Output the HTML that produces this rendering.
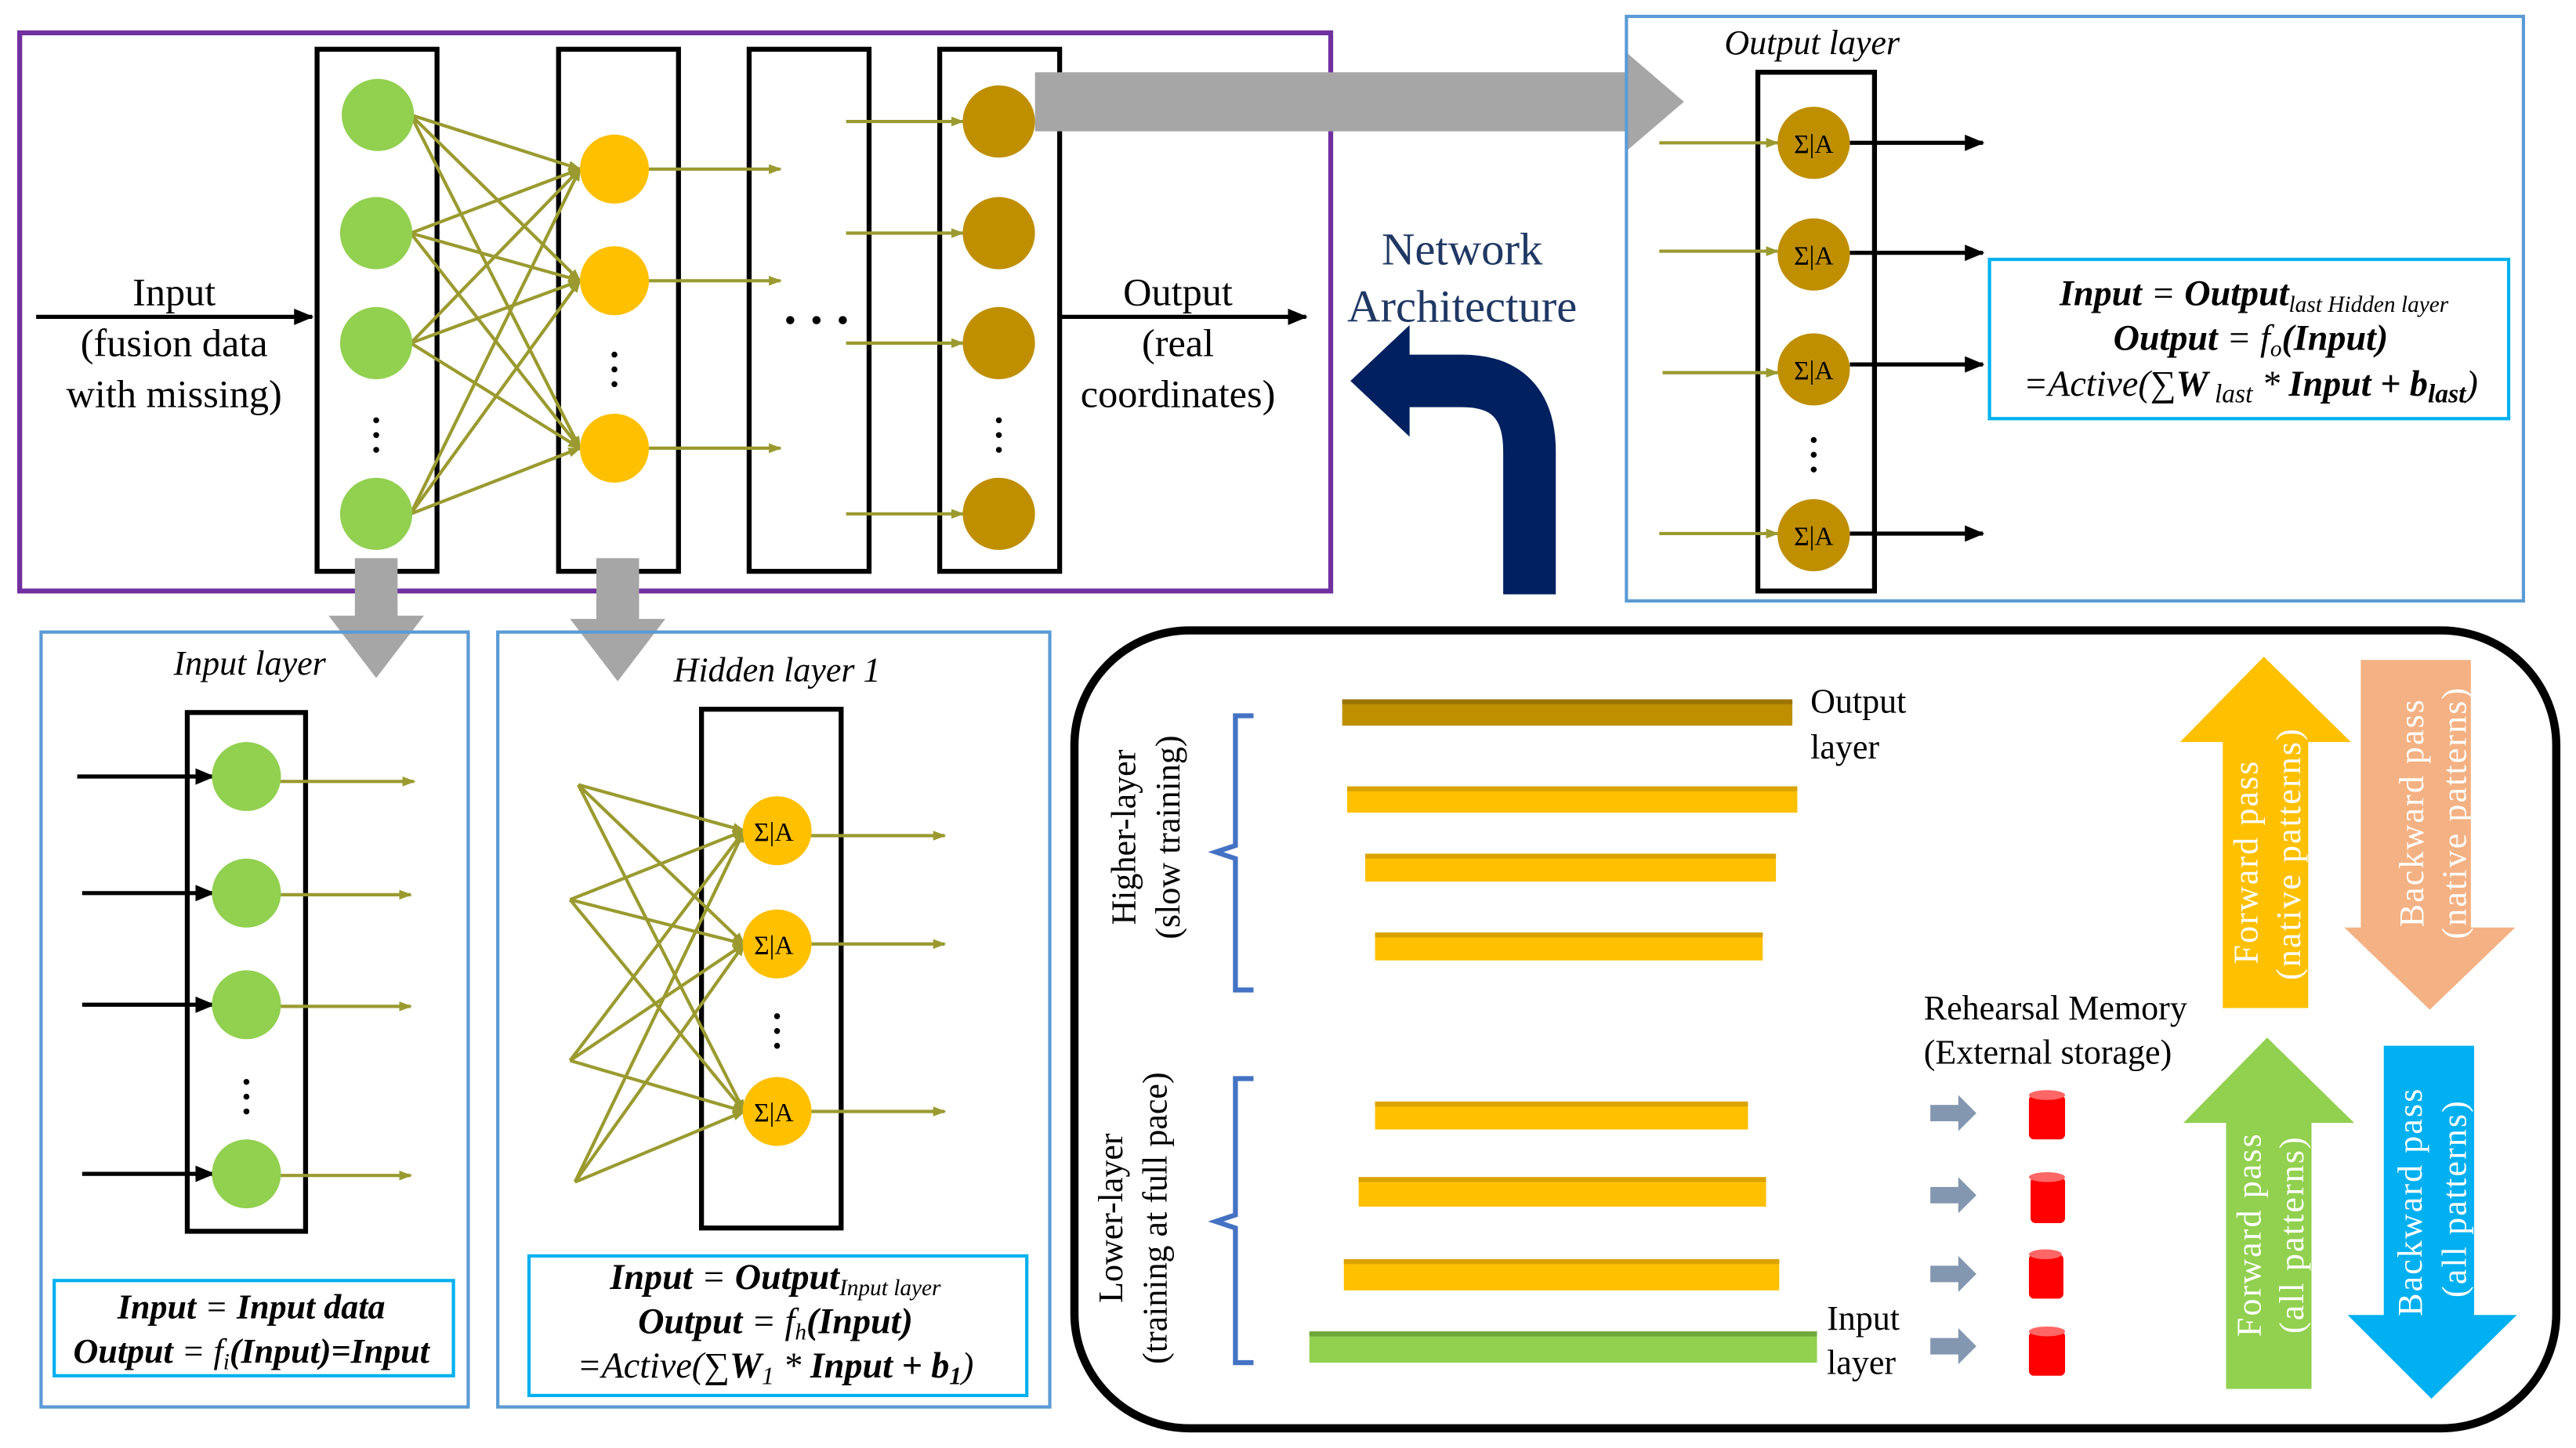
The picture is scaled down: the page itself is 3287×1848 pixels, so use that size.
<!DOCTYPE html>
<html><head><meta charset="utf-8"><style>
html,body{margin:0;padding:0;background:#fff}
svg{display:block}
text{font-family:"Liberation Serif",serif}
</style></head><body>
<svg width="3287" height="1848" viewBox="0 0 1568 882" preserveAspectRatio="none" xmlns="http://www.w3.org/2000/svg">
<defs>
<marker id="ao" markerWidth="8" markerHeight="8" refX="7" refY="4" orient="auto" markerUnits="userSpaceOnUse"><path d="M0,1 L8,4 L0,7 Z" fill="#9A9A30"/></marker>
<marker id="ab" markerWidth="12" markerHeight="10" refX="11" refY="5" orient="auto" markerUnits="userSpaceOnUse"><path d="M0,0 L12,5 L0,10 Z" fill="#000"/></marker>
</defs>
<rect width="1568" height="882" fill="#fff"/>

<rect x="12" y="20" width="798" height="340" fill="none" stroke="#7030A0" stroke-width="3"/>
<g fill="none" stroke="#000" stroke-width="3">
<rect x="193" y="30" width="73" height="318"/>
<rect x="340" y="30" width="73" height="318"/>
<rect x="456" y="30" width="73" height="318"/>
<rect x="572" y="30" width="73" height="318"/>
</g>
<g stroke="#9A9A30" stroke-width="2" fill="none" marker-end="url(#ao)">
<line x1="250" y1="70" x2="353" y2="103"/><line x1="250" y1="70" x2="353" y2="171"/><line x1="250" y1="70" x2="353" y2="273"/>
<line x1="250" y1="142" x2="353" y2="103"/><line x1="250" y1="142" x2="353" y2="171"/><line x1="250" y1="142" x2="353" y2="273"/>
<line x1="250" y1="209" x2="353" y2="103"/><line x1="250" y1="209" x2="353" y2="171"/><line x1="250" y1="209" x2="353" y2="273"/>
<line x1="250" y1="313" x2="353" y2="103"/><line x1="250" y1="313" x2="353" y2="171"/><line x1="250" y1="313" x2="353" y2="273"/>
<line x1="395" y1="103" x2="475" y2="103"/><line x1="395" y1="171" x2="475" y2="171"/><line x1="395" y1="273" x2="475" y2="273"/>
<line x1="515" y1="74" x2="586" y2="74"/><line x1="515" y1="142" x2="586" y2="142"/><line x1="515" y1="209" x2="586" y2="209"/><line x1="515" y1="313" x2="586" y2="313"/>
</g>
<g fill="#92D050"><circle cx="230" cy="70" r="22"/><circle cx="229" cy="142" r="22"/><circle cx="229" cy="209" r="22"/><circle cx="229" cy="313" r="22"/></g>
<g fill="#FFC000"><circle cx="374" cy="103" r="21"/><circle cx="374" cy="171" r="21"/><circle cx="374" cy="273" r="21"/></g>
<g fill="#BF8F00"><circle cx="608" cy="74" r="22"/><circle cx="608" cy="142" r="22"/><circle cx="608" cy="209" r="22"/><circle cx="608" cy="313" r="22"/></g>
<g fill="#000"><circle cx="229" cy="256" r="1.8"/><circle cx="229" cy="265" r="1.8"/><circle cx="229" cy="274" r="1.8"/>
<circle cx="374" cy="216" r="1.8"/><circle cx="374" cy="225" r="1.8"/><circle cx="374" cy="234" r="1.8"/>
<circle cx="608" cy="256" r="1.8"/><circle cx="608" cy="265" r="1.8"/><circle cx="608" cy="274" r="1.8"/>
<circle cx="481" cy="195" r="2.5"/><circle cx="497" cy="195" r="2.5"/><circle cx="513" cy="195" r="2.5"/></g>
<line x1="22" y1="193" x2="190" y2="193" stroke="#000" stroke-width="2.5" marker-end="url(#ab)"/>
<line x1="645" y1="193" x2="795" y2="193" stroke="#000" stroke-width="2.5" marker-end="url(#ab)"/>
<g font-size="24" text-anchor="middle" fill="#000">
<text x="106" y="186">Input</text><text x="106" y="217">(fusion data</text><text x="106" y="248">with missing)</text>
<text x="717" y="186">Output</text><text x="717" y="217">(real</text><text x="717" y="248">coordinates)</text>
</g>
<g fill="#A6A6A6">
<polygon points="630,44 990,44 990,32 1025,62 990,92 990,80 630,80"/>
<polygon points="216,340 242,340 242,375 258,375 229,413 200,375 216,375"/>
<polygon points="363,340 389,340 389,377 405,377 376,415 347,377 363,377"/>
</g>
<g font-size="28" text-anchor="middle" fill="#203864"><text x="890" y="161">Network</text><text x="890" y="196">Architecture</text></g>
<path d="M931,362 L931,275 Q931,232 890,232 L852,232" fill="none" stroke="#002060" stroke-width="32"/>
<polygon points="822,232 858,198 858,266" fill="#002060"/>

<rect x="990" y="10" width="546" height="356" fill="none" stroke="#5B9BD5" stroke-width="2"/>
<text x="1103" y="33" font-size="21" font-style="italic" text-anchor="middle">Output layer</text>
<rect x="1070" y="44" width="71" height="316" fill="none" stroke="#000" stroke-width="3"/>
<g stroke="#9A9A30" stroke-width="2" marker-end="url(#ao)">
<line x1="1010" y1="87" x2="1082" y2="87"/><line x1="1010" y1="153" x2="1082" y2="153"/><line x1="1012" y1="227" x2="1082" y2="227"/><line x1="1010" y1="325" x2="1082" y2="325"/>
</g>
<g stroke="#000" stroke-width="2.5" marker-end="url(#ab)">
<line x1="1126" y1="87" x2="1207" y2="87"/><line x1="1126" y1="154" x2="1207" y2="154"/><line x1="1126" y1="222" x2="1207" y2="222"/><line x1="1126" y1="325" x2="1207" y2="325"/>
</g>
<g fill="#BF8F00"><circle cx="1104" cy="87" r="22"/><circle cx="1104" cy="155" r="22"/><circle cx="1104" cy="225" r="22"/><circle cx="1104" cy="326" r="22"/></g>
<g font-size="16" text-anchor="middle" fill="#000"><text x="1104" y="93">Σ|A</text><text x="1104" y="161">Σ|A</text><text x="1104" y="231">Σ|A</text><text x="1104" y="332">Σ|A</text></g>
<g fill="#000"><circle cx="1104" cy="268" r="1.8"/><circle cx="1104" cy="277" r="1.8"/><circle cx="1104" cy="286" r="1.8"/></g>
<rect x="1211" y="158" width="316" height="97" fill="#fff" stroke="#00B0F0" stroke-width="2"/>
<g font-size="22" text-anchor="middle" font-style="italic">
<text x="1372" y="186"><tspan font-weight="bold">Input</tspan> = <tspan font-weight="bold">Output</tspan><tspan font-size="14" dy="4">last Hidden layer</tspan></text>
<text x="1370" y="213"><tspan font-weight="bold">Output</tspan> = f<tspan font-size="14" dy="4">o</tspan><tspan dy="-4" font-weight="bold">(Input)</tspan></text>
<text x="1370" y="241">=Active(∑<tspan font-weight="bold">W</tspan><tspan font-size="16" dy="4"> last</tspan><tspan dy="-4"> * </tspan><tspan font-weight="bold">Input + b</tspan><tspan font-size="16" dy="4" font-weight="bold">last</tspan><tspan dy="-4">)</tspan></text>
</g>

<rect x="25" y="385" width="260" height="472" fill="none" stroke="#5B9BD5" stroke-width="2"/>
<text x="152" y="411" font-size="21" font-style="italic" text-anchor="middle">Input layer</text>
<rect x="114" y="434" width="72" height="316" fill="none" stroke="#000" stroke-width="3"/>
<g stroke="#000" stroke-width="2.5" marker-end="url(#ab)">
<line x1="47" y1="473" x2="130" y2="473"/><line x1="50" y1="544" x2="130" y2="544"/><line x1="50" y1="612" x2="130" y2="612"/><line x1="50" y1="715" x2="130" y2="715"/>
</g>
<g stroke="#9A9A30" stroke-width="2" marker-end="url(#ao)">
<line x1="170" y1="476" x2="252" y2="476"/><line x1="170" y1="545" x2="250" y2="545"/><line x1="170" y1="613" x2="250" y2="613"/><line x1="170" y1="716" x2="250" y2="716"/>
</g>
<g fill="#92D050"><circle cx="150" cy="473" r="21"/><circle cx="150" cy="544" r="21"/><circle cx="150" cy="612" r="21"/><circle cx="150" cy="715" r="21"/></g>
<g fill="#000"><circle cx="150" cy="659" r="1.8"/><circle cx="150" cy="668" r="1.8"/><circle cx="150" cy="677" r="1.8"/></g>
<rect x="33" y="780" width="243" height="58" fill="#fff" stroke="#00B0F0" stroke-width="2"/>
<g font-size="21" text-anchor="middle" font-style="italic" font-weight="bold">
<text x="153" y="803">Input <tspan font-weight="normal">=</tspan> Input data</text>
<text x="153" y="830">Output <tspan font-weight="normal">= f</tspan><tspan font-size="14" dy="4" font-weight="normal">i</tspan><tspan dy="-4">(Input)=Input</tspan></text>
</g>

<rect x="303" y="385" width="336" height="472" fill="none" stroke="#5B9BD5" stroke-width="2"/>
<text x="473" y="415" font-size="21" font-style="italic" text-anchor="middle">Hidden layer 1</text>
<rect x="427" y="432" width="85" height="316" fill="none" stroke="#000" stroke-width="3"/>
<g stroke="#9A9A30" stroke-width="2" fill="none" marker-end="url(#ao)">
<line x1="352" y1="478" x2="453" y2="506"/><line x1="352" y1="478" x2="453" y2="575"/><line x1="352" y1="478" x2="453" y2="677"/>
<line x1="347" y1="548" x2="453" y2="506"/><line x1="347" y1="548" x2="453" y2="575"/><line x1="347" y1="548" x2="453" y2="677"/>
<line x1="347" y1="646" x2="453" y2="506"/><line x1="347" y1="646" x2="453" y2="575"/><line x1="347" y1="646" x2="453" y2="677"/>
<line x1="350" y1="720" x2="453" y2="506"/><line x1="350" y1="720" x2="453" y2="575"/><line x1="350" y1="720" x2="453" y2="677"/>
<line x1="493" y1="509" x2="575" y2="509"/><line x1="493" y1="575" x2="575" y2="575"/><line x1="493" y1="677" x2="575" y2="677"/>
</g>
<g fill="#FFC000"><circle cx="473" cy="506" r="21"/><circle cx="473" cy="575" r="21"/><circle cx="473" cy="677" r="21"/></g>
<g font-size="16" text-anchor="middle"><text x="471" y="512">Σ|A</text><text x="471" y="581">Σ|A</text><text x="471" y="683">Σ|A</text></g>
<g fill="#000"><circle cx="473" cy="619" r="1.8"/><circle cx="473" cy="628" r="1.8"/><circle cx="473" cy="637" r="1.8"/></g>
<rect x="322" y="765" width="303" height="85" fill="#fff" stroke="#00B0F0" stroke-width="2"/>
<g font-size="22" text-anchor="middle" font-style="italic">
<text x="472" y="785"><tspan font-weight="bold">Input</tspan> = <tspan font-weight="bold">Output</tspan><tspan font-size="14" dy="4">Input layer</tspan></text>
<text x="472" y="812"><tspan font-weight="bold">Output</tspan> = f<tspan font-size="14" dy="4">h</tspan><tspan dy="-4" font-weight="bold">(Input)</tspan></text>
<text x="472" y="839">=Active(∑<tspan font-weight="bold">W</tspan><tspan font-size="15" dy="4">1</tspan><tspan dy="-4"> * </tspan><tspan font-weight="bold">Input + b</tspan><tspan font-size="15" dy="4" font-weight="bold">1</tspan><tspan dy="-4">)</tspan></text>
</g>

<rect x="654" y="384" width="902" height="486" rx="70" ry="70" fill="none" stroke="#000" stroke-width="5"/>
<g>
<rect x="817" y="426" width="274" height="16" fill="#BF8F00"/><rect x="817" y="426" width="274" height="3" fill="#9C7400"/>
<rect x="820" y="479" width="274" height="16" fill="#FFC000"/><rect x="820" y="479" width="274" height="3" fill="#D9A300"/>
<rect x="831" y="520" width="250" height="17" fill="#FFC000"/><rect x="831" y="520" width="250" height="3" fill="#D9A300"/>
<rect x="837" y="568" width="236" height="17" fill="#FFC000"/><rect x="837" y="568" width="236" height="3" fill="#D9A300"/>
<rect x="837" y="671" width="227" height="17" fill="#FFC000"/><rect x="837" y="671" width="227" height="3" fill="#D9A300"/>
<rect x="827" y="717" width="248" height="18" fill="#FFC000"/><rect x="827" y="717" width="248" height="3" fill="#D9A300"/>
<rect x="818" y="767" width="265" height="19" fill="#FFC000"/><rect x="818" y="767" width="265" height="3" fill="#D9A300"/>
<rect x="797" y="811" width="309" height="19" fill="#92D050"/><rect x="797" y="811" width="309" height="3" fill="#6FA83A"/>
</g>
<g font-size="21"><text x="1102" y="434">Output</text><text x="1102" y="462">layer</text><text x="1112" y="810">Input</text><text x="1112" y="837">layer</text>
<text x="1171" y="621">Rehearsal Memory</text><text x="1171" y="648">(External storage)</text></g>
<g fill="none" stroke="#4472C4" stroke-width="3">
<path d="M763,436 L752,436 L752,515 L740,519 L752,523 L752,603 L763,603"/>
<path d="M763,657 L752,657 L752,740 L740,744 L752,748 L752,830 L763,830"/>
</g>
<g font-size="21" text-anchor="middle">
<text transform="translate(691,510) rotate(-90)">Higher-layer</text>
<text transform="translate(718,510) rotate(-90)">(slow training)</text>
<text transform="translate(683,742) rotate(-90)">Lower-layer</text>
<text transform="translate(710,742) rotate(-90)">(training at full pace)</text>
</g>
<g fill="#8497B0">
<polygon points="1175,673 1192,673 1192,667 1203,678 1192,689 1192,683 1175,683"/>
<polygon points="1175,723 1192,723 1192,717 1203,728 1192,739 1192,733 1175,733"/>
<polygon points="1175,771 1192,771 1192,765 1203,776 1192,787 1192,781 1175,781"/>
<polygon points="1175,815 1192,815 1192,809 1203,820 1192,831 1192,825 1175,825"/>
</g>
<g fill="#FF0000">
<rect x="1235" y="667" width="22" height="27" rx="3"/><ellipse cx="1246" cy="667" rx="11" ry="3" fill="#FF6666"/>
<rect x="1236" y="717" width="21" height="28" rx="3"/><ellipse cx="1246" cy="717" rx="11" ry="3" fill="#FF6666"/>
<rect x="1235" y="764" width="21" height="27" rx="3"/><ellipse cx="1245" cy="764" rx="10" ry="3" fill="#FF6666"/>
<rect x="1235" y="811" width="22" height="27" rx="3"/><ellipse cx="1246" cy="811" rx="11" ry="3" fill="#FF6666"/>
</g>
<polygon points="1378,400 1431,452 1405,452 1405,614 1353,614 1353,452 1327,452" fill="#FFC000"/>
<polygon points="1437,402 1504,402 1504,565 1531,565 1479,615 1427,565 1437,565" fill="#F4B183"/>
<polygon points="1380,632 1433,684 1407,684 1407,846 1355,846 1355,684 1329,684" fill="#92D050"/>
<polygon points="1451,637 1506,637 1506,801 1532,801 1480,852 1429,801 1451,801" fill="#00B0F0"/>
<g font-size="21" text-anchor="middle" fill="#fff" letter-spacing="1">
<text transform="translate(1374,525) rotate(-90)">Forward pass</text>
<text transform="translate(1400,520) rotate(-90)">(native patterns)</text>
<text transform="translate(1475,495) rotate(-90)">Backward pass</text>
<text transform="translate(1501,495) rotate(-90)">(native patterns)</text>
<text transform="translate(1376,752) rotate(-90)">Forward pass</text>
<text transform="translate(1402,752) rotate(-90)">(all  patterns)</text>
<text transform="translate(1474,732) rotate(-90)">Backward pass</text>
<text transform="translate(1501,730) rotate(-90)">(all patterns)</text>
</g>
</svg>
</body></html>
